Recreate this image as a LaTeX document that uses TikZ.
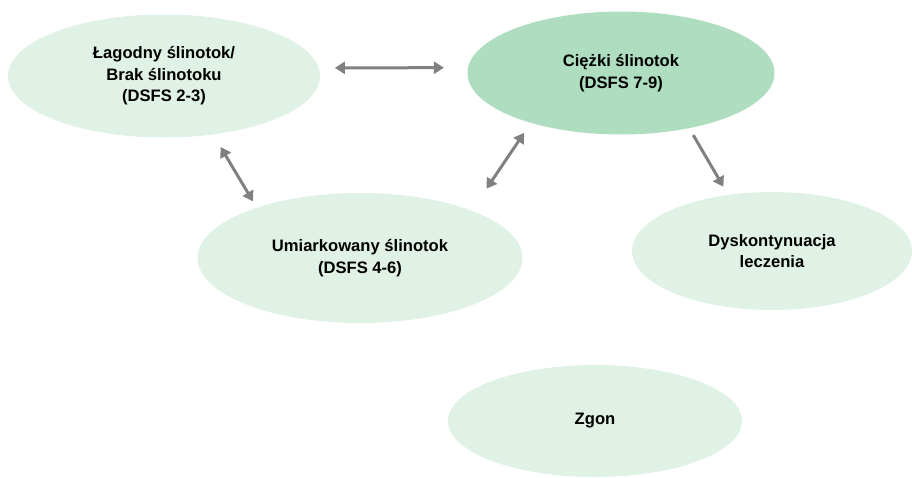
\documentclass[tikz,border=0pt]{standalone}
\usepackage{fontspec}
\setmainfont{Liberation Sans}
\usetikzlibrary{shapes.geometric,arrows.meta}
\definecolor{stan-light}{RGB}{224,241,230}
\definecolor{stan-dark}{RGB}{174,221,191}
\definecolor{strz-grey}{RGB}{128,128,128}

\begin{document}
\begin{tikzpicture}[x=1pt, y=-1pt,
    stan/.style={ellipse, fill=stan-light, inner sep=0, align=center,
        font=\fontsize{16.6}{21.5}\selectfont\bfseries},
    strz/.style={draw=strz-grey, line width=3pt,
        {Triangle[length=10pt,width=12pt]}-{Triangle[length=10pt,width=12pt]}},
    strzjed/.style={draw=strz-grey, line width=3pt,
        -{Triangle[length=10pt,width=12pt]}}]

    \useasboundingbox (0,0) rectangle (912,477);

    % Top row
    \node[stan, minimum width=312pt, minimum height=123pt] (lag) at (164,76)
        {Łagodny ślinotok/\\Brak ślinotoku\\(DSFS 2-3)};
    \node[stan, fill=stan-dark, minimum width=307pt, minimum height=123pt] (ciez)
        at (621,73) {Ciężki ślinotok\\(DSFS 7-9)};

    % Middle row
    \node[stan, minimum width=325pt, minimum height=130pt] (umiar) at (360,258)
        {Umiarkowany ślinotok\\(DSFS 4-6)};
    \node[stan, minimum width=280pt, minimum height=118pt] (dysk) at (772,251)
        {Dyskontynuacja\\leczenia};

    % Bottom
    \node[stan, minimum width=294pt, minimum height=112pt] (zgon) at (595,421)
        {Zgon};

    % Arrows
    \draw[strz, shorten <=16pt, shorten >=24pt] (lag.3) -- (ciez.178.5);
    \draw[strz, shorten <=14.6pt, shorten >=7.3pt] (lag.-50) -- (umiar.154.5);
    \draw[strz, shorten <=26.5pt, shorten >=12pt] (umiar.23) -- (ciez.-151);
    \draw[strzjed, shorten <=7.9pt, shorten >=9.3pt] (ciez.-39) -- (dysk.128.4);

\end{tikzpicture}
\end{document}
